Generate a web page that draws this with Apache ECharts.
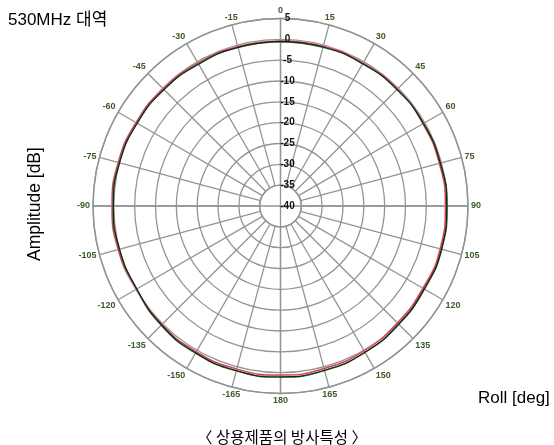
<!DOCTYPE html>
<html>
<head>
<meta charset="utf-8">
<script src="https://cdn.jsdelivr.net/npm/echarts@6/dist/echarts.min.js"></script>
<style>
  html, body { margin: 0; padding: 0; background: #fff; }
  #chart { width: 554px; height: 445px; }
</style>
</head>
<body>
<div id="chart"></div>
<script>
// Roll angles in degrees (0 at top, clockwise); 195..345 are shown as -165..-15
const rollAngles = [0, 15, 30, 45, 60, 75, 90, 105, 120, 135, 150, 165, 180,
                    195, 210, 225, 240, 255, 270, 285, 300, 315, 330, 345, 360];

// Measured amplitude [dB] for each trace
const traceBlack = [-0.5, -0.5, -0.6, -0.5, -0.4, -0.3, -0.1, 0.0, -0.2, 0.1, 0.5, 0.8, 1.0,
                    0.9, 0.7, 0.4, -0.2, 0.0, 0.1, 0.0, -0.3, -0.5, -0.7, -0.6, -0.5];
const traceGreen = [-0.6, -0.6, -0.5, -0.4, -0.3, -0.2, 0.0, 0.1, -0.1, 0.2, 0.6, 0.9, 1.1,
                    1.0, 0.8, 0.5, -0.1, 0.1, 0.2, 0.1, -0.2, -0.4, -0.6, -0.6, -0.6];
const traceRed   = [-0.4, -0.3, -0.4, -0.3, -0.5, -0.5, -0.4, -0.3, -0.5, -0.3, 0.1, 0.4, 0.6,
                    0.5, 0.4, 0.2, -0.1, 0.3, 0.4, 0.3, 0.0, -0.2, -0.4, -0.4, -0.4];
const tracePink  = [-0.3, -0.2, -0.3, -0.2, -0.6, -0.6, -0.5, -0.4, -0.6, -0.4, 0.0, 0.3, 0.5,
                    0.5, 0.4, 0.3, 0.1, 0.4, 0.5, 0.4, 0.1, -0.1, -0.3, -0.3, -0.3];

// Radial scale [dB]
const ampMin = -40;
const ampMax = 5;
const ampStep = 5;
const rollStep = 15;

const texts = {
  band: '530MHz 대역',
  yName: 'Amplitude [dB]',
  xName: 'Roll [deg]',
  caption: '〈 상용제품의 방사특성 〉'
};

const CX = 280.5, CY = 206, R = 187.5;
const innerR = R * (ampMax - (ampMin + ampStep)) / (ampMax - ampMin);
const innerR0 = R - innerR;
const gridColor = '#949494';

function pairs(vals) {
  return vals.map((v, i) => [v, rollAngles[i]]);
}

const chart = echarts.init(document.getElementById('chart'), null, { renderer: 'canvas' });

const lineSeries = (name, vals, color) => ({
  name, type: 'line', coordinateSystem: 'polar', polarIndex: 1,
  data: pairs(vals), smooth: 0.5, showSymbol: false,
  lineStyle: { color, width: 1.2 }, z: 5
});

chart.setOption({
  animation: false,
  backgroundColor: '#fff',
  polar: [
    { center: [CX, CY], radius: [innerR0, R] },
    { center: [CX, CY], radius: [0, R] }
  ],
  angleAxis: [
    {
      polarIndex: 0, type: 'value', min: 0, max: 360, interval: rollStep,
      startAngle: 90, clockwise: true,
      axisLine: { show: true, lineStyle: { color: gridColor, width: 1.4 } },
      axisTick: { show: false },
      axisLabel: {
        margin: 3, fontSize: 9, fontWeight: 'bold', color: '#3d5a2c',
        fontFamily: 'Liberation Sans',
        formatter: v => (v > 180 ? v - 360 : v) + ''
      },
      splitLine: { show: true, lineStyle: { color: gridColor, width: 1.3 } }
    },
    {
      polarIndex: 1, type: 'value', min: 0, max: 360, interval: 90,
      startAngle: 90, clockwise: true,
      axisLine: { show: false }, axisTick: { show: false }, axisLabel: { show: false },
      splitLine: { show: true, lineStyle: { color: gridColor, width: 1.3 } }
    }
  ],
  radiusAxis: [
    {
      polarIndex: 0, type: 'value', min: ampMin + ampStep, max: ampMax, interval: ampStep,
      axisLine: { show: false }, axisTick: { show: false }, axisLabel: { show: false },
      splitLine: { show: true, lineStyle: { color: gridColor, width: 1.3 } }
    },
    {
      polarIndex: 1, type: 'value', min: ampMin, max: ampMax, interval: ampStep,
      axisLine: { show: false }, axisTick: { show: false },
      splitLine: { show: false },
      axisLabel: {
        margin: -7, fontSize: 10, fontWeight: 'bold', color: '#111',
        fontFamily: 'Liberation Sans', align: 'center', verticalAlign: 'middle'
      },
      z: 10
    }
  ],
  series: [
    lineSeries('pink', tracePink, '#e59aae'),
    lineSeries('red', traceRed, '#d13a4c'),
    lineSeries('green', traceGreen, '#2f8c3c'),
    lineSeries('black', traceBlack, '#1e1e1e')
  ],
  graphic: [
    { type: 'text', left: 8, top: 12,
      style: { text: texts.band, font: '17px "Liberation Sans", "Noto Sans CJK KR", sans-serif', fill: '#000' } },
    { type: 'text', x: 26, y: 204, rotation: Math.PI / 2, originX: 0, originY: 0,
      style: { text: texts.yName, font: '17.5px "Liberation Sans", sans-serif', fill: '#000',
               align: 'center', verticalAlign: 'top' } },
    { type: 'text', left: 478, top: 390,
      style: { text: texts.xName, font: '17px "Liberation Sans", sans-serif', fill: '#000' } },
    { type: 'text', x: 282, y: 437,
      style: { text: texts.caption, font: '15.5px "Noto Sans CJK KR", sans-serif', fill: '#000',
               align: 'center', verticalAlign: 'middle' } }
  ]
});
</script>
</body>
</html>
